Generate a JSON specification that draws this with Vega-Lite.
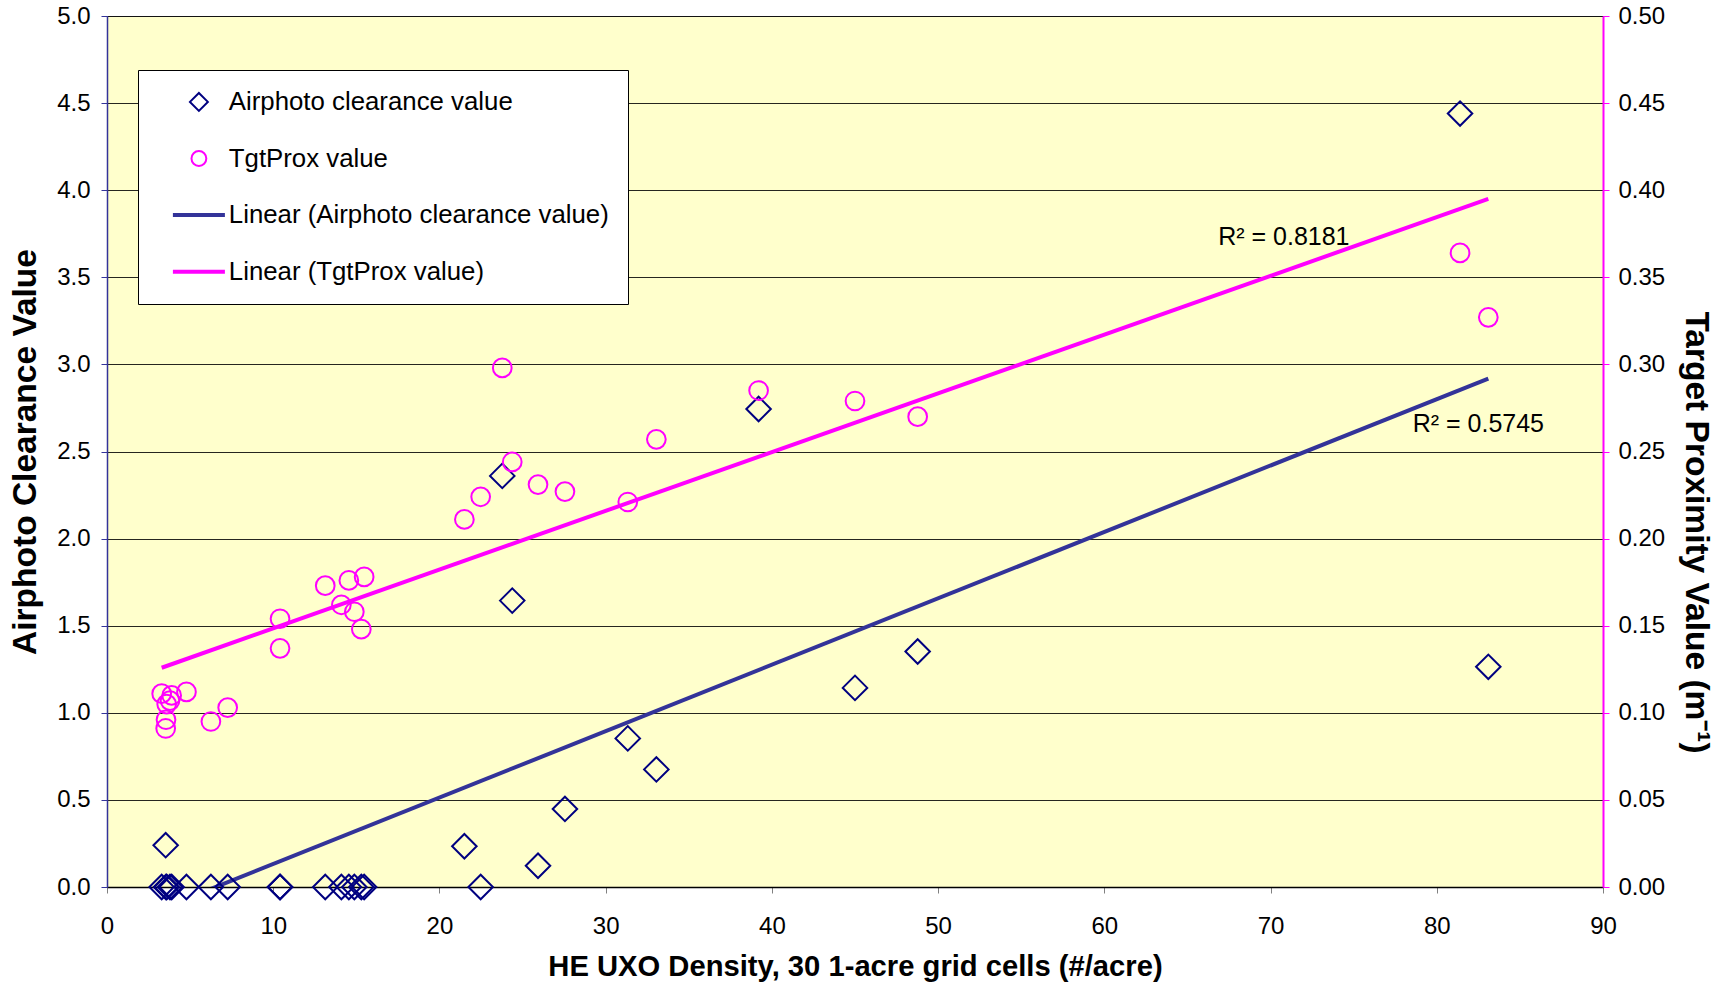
{
  "$schema": "https://vega.github.io/schema/vega-lite/v6.json",
  "width": 1496,
  "height": 871,
  "autosize": {"type": "none"},
  "padding": {"left": 107, "top": 16, "right": 125, "bottom": 95},
  "background": "#FFFFFF",
  "config": {
    "view": {"fill": "#FFFFCC", "stroke": "#808080", "strokeWidth": 1},
    "font": "Liberation Sans",
    "axis": {
      "labelFont": "Liberation Sans",
      "labelFontSize": 24,
      "labelColor": "#000000",
      "labelFlush": false,
      "titleFont": "Liberation Sans",
      "titleFontWeight": "bold",
      "titleColor": "#000000",
      "tickSize": 6,
      "grid": false
    }
  },
  "datasets": {
    "cells": [
      {"density": 3.29, "airphoto": 0, "tgtprox": 0.111},
      {"density": 3.53, "airphoto": 0.24, "tgtprox": 0.091},
      {"density": 3.55, "airphoto": 0, "tgtprox": 0.096},
      {"density": 3.59, "airphoto": 0, "tgtprox": 0.105},
      {"density": 3.79, "airphoto": 0, "tgtprox": 0.107},
      {"density": 3.89, "airphoto": 0, "tgtprox": 0.11},
      {"density": 4.78, "airphoto": 0, "tgtprox": 0.112},
      {"density": 6.25, "airphoto": 0, "tgtprox": 0.095},
      {"density": 7.26, "airphoto": 0, "tgtprox": 0.103},
      {"density": 10.41, "airphoto": 0, "tgtprox": 0.154},
      {"density": 10.41, "airphoto": 0, "tgtprox": 0.137},
      {"density": 13.13, "airphoto": 0, "tgtprox": 0.173},
      {"density": 14.1, "airphoto": 0, "tgtprox": 0.162},
      {"density": 14.55, "airphoto": 0, "tgtprox": 0.176},
      {"density": 14.88, "airphoto": 0, "tgtprox": 0.158},
      {"density": 15.3, "airphoto": 0, "tgtprox": 0.148},
      {"density": 15.47, "airphoto": 0, "tgtprox": 0.178},
      {"density": 21.5, "airphoto": 0.234, "tgtprox": 0.211},
      {"density": 22.48, "airphoto": 0, "tgtprox": 0.224},
      {"density": 23.78, "airphoto": 2.36, "tgtprox": 0.298},
      {"density": 24.38, "airphoto": 1.644, "tgtprox": 0.244},
      {"density": 25.93, "airphoto": 0.122, "tgtprox": 0.231},
      {"density": 27.55, "airphoto": 0.448, "tgtprox": 0.227},
      {"density": 31.33, "airphoto": 0.853, "tgtprox": 0.221},
      {"density": 33.05, "airphoto": 0.675, "tgtprox": 0.257},
      {"density": 39.2, "airphoto": 2.744, "tgtprox": 0.285},
      {"density": 45.0, "airphoto": 1.143, "tgtprox": 0.279},
      {"density": 48.77, "airphoto": 1.352, "tgtprox": 0.27},
      {"density": 81.4, "airphoto": 4.44, "tgtprox": 0.364},
      {"density": 83.1, "airphoto": 1.264, "tgtprox": 0.327}
    ],
    "notes": [
      {"label": "R² = 0.8181", "density": 70.8, "airphoto": 3.73},
      {"label": "R² = 0.5745", "density": 82.5, "airphoto": 2.656}
    ]
  },
  "layer": [
    {
      "layer": [
        {
          "data": {"name": "cells"},
          "transform": [{"regression": "airphoto", "on": "density"}],
          "mark": {"type": "line", "clip": true, "strokeWidth": 4},
          "encoding": {
            "x": {"field": "density", "type": "quantitative", "scale": {"domain": [0, 90], "nice": false},
              "axis": {"orient": "bottom", "title": "HE UXO Density, 30 1-acre grid cells (#/acre)", "values": [0, 10, 20, 30, 40, 50, 60, 70, 80, 90], "format": "d", "domainColor": "#000000", "domainWidth": 1.5, "tickColor": "#808080", "labelPadding": 21, "titleFontSize": 29.2, "titlePadding": 14}},
            "y": {"field": "airphoto", "type": "quantitative", "scale": {"domain": [0, 5], "nice": false},
              "axis": {"orient": "left", "title": "Airphoto Clearance Value", "values": [0, 0.5, 1, 1.5, 2, 2.5, 3, 3.5, 4, 4.5, 5], "format": ".1f", "domainColor": "#333399", "domainWidth": 1.5, "tickColor": "#333399", "labelPadding": 11, "titleFontSize": 33.5, "titlePadding": 14, "grid": true, "gridColor": "#000000", "gridWidth": 1, "gridOpacity": 0.85}},
            "color": {
              "datum": "Linear (Airphoto clearance value)",
              "scale": {
                "domain": ["Airphoto clearance value", "TgtProx value", "Linear (Airphoto clearance value)", "Linear (TgtProx value)"],
                "range": ["#000080", "#FF00FF", "#333399", "#FF00FF"]
              },
              "legend": {
                "title": null,
                "orient": "none",
                "legendX": 31,
                "legendY": 54,
                "fillColor": "#FFFFFF",
                "strokeColor": "#000000",
                "padding": 19,
                "symbolOffset": 29,
                "labelFont": "Liberation Sans",
                "labelFontSize": 25.8,
                "labelColor": "#000000",
                "labelOffset": 17,
                "rowPadding": 29.6,
                "symbolSize": 2704,
                "symbolStrokeWidth": 4,
                "labelLimit": 700,
                "encode": {
                  "symbols": {
                    "update": {
                      "shape": {"scale": "shape", "field": "value"},
                      "size": {"signal": "datum.value == 'Airphoto clearance value' ? 320 : (datum.value == 'TgtProx value' ? 220 : 2704)"},
                      "strokeWidth": {"signal": "datum.value == 'Airphoto clearance value' || datum.value == 'TgtProx value' ? 2 : 4"},
                      "fill": {"value": "transparent"},
                      "stroke": {"scale": "color", "field": "value"}
                    }
                  }
                }
              }
            }
          }
        },
        {
          "data": {"name": "cells"},
          "mark": {"type": "point", "filled": false, "opacity": 1, "size": 600, "strokeWidth": 2},
          "encoding": {
            "x": {"field": "density", "type": "quantitative"},
            "y": {"field": "airphoto", "type": "quantitative"},
            "color": {"datum": "Airphoto clearance value"},
            "shape": {
              "datum": "Airphoto clearance value",
              "scale": {
                "domain": ["Airphoto clearance value", "TgtProx value", "Linear (Airphoto clearance value)", "Linear (TgtProx value)"],
                "range": ["diamond", "circle", "stroke", "stroke"]
              },
              "legend": null
            }
          }
        },
        {
          "data": {"name": "notes"},
          "mark": {"type": "text", "fontSize": 25, "font": "Liberation Sans", "color": "#000000", "align": "center", "baseline": "middle"},
          "encoding": {
            "x": {"field": "density", "type": "quantitative"},
            "y": {"field": "airphoto", "type": "quantitative"},
            "text": {"field": "label"}
          }
        }
      ]
    },
    {
      "layer": [
        {
          "data": {"name": "cells"},
          "transform": [{"regression": "tgtprox", "on": "density"}],
          "mark": {"type": "line", "clip": true, "strokeWidth": 4},
          "encoding": {
            "x": {"field": "density", "type": "quantitative"},
            "y": {"field": "tgtprox", "type": "quantitative", "scale": {"domain": [0, 0.5], "nice": false},
              "axis": {"orient": "right", "title": "Target Proximity Value (m⁻¹)", "values": [0, 0.05, 0.1, 0.15, 0.2, 0.25, 0.3, 0.35, 0.4, 0.45, 0.5], "format": ".2f", "domainColor": "#FF00FF", "domainWidth": 2, "tickColor": "#FF00FF", "labelPadding": 9, "titleFontSize": 33.5, "titlePadding": 14, "titleY": 516, "grid": false}},
            "color": {"datum": "Linear (TgtProx value)"}
          }
        },
        {
          "data": {"name": "cells"},
          "mark": {"type": "point", "filled": false, "opacity": 1, "size": 350, "strokeWidth": 2},
          "encoding": {
            "x": {"field": "density", "type": "quantitative"},
            "y": {"field": "tgtprox", "type": "quantitative"},
            "color": {"datum": "TgtProx value"},
            "shape": {"datum": "TgtProx value"}
          }
        }
      ]
    }
  ],
  "resolve": {"scale": {"y": "independent"}}
}
